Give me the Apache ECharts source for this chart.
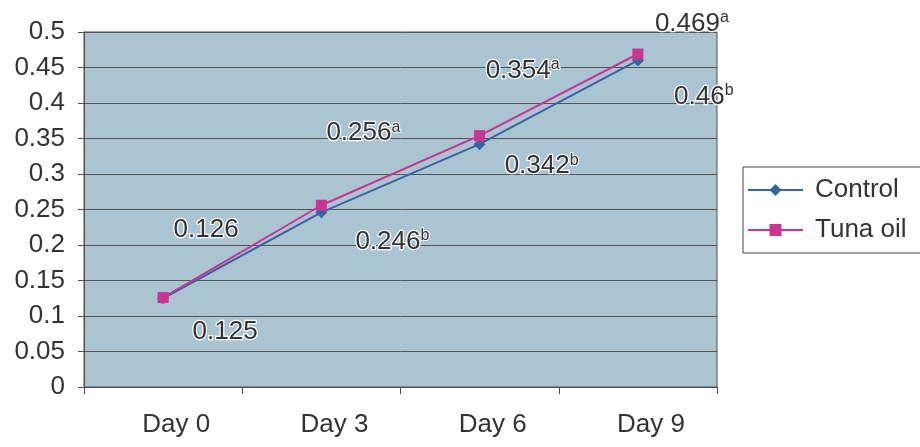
<!DOCTYPE html>
<html>
<head>
<meta charset="utf-8">
<script src="https://cdn.jsdelivr.net/npm/echarts@6/dist/echarts.min.js"></script>
<style>
  html, body { margin: 0; padding: 0; background: #fff; }
  #chart { width: 920px; height: 447px; }
</style>
</head>
<body>
<div id="chart"></div>
<script>
// Sampling days on the x axis
const days = ['Day 0', 'Day 3', 'Day 6', 'Day 9'];

// Measured values per group
const controlValues = [0.125, 0.246, 0.342, 0.46];
const tunaOilValues = [0.126, 0.256, 0.354, 0.469];

// Significance letters shown as superscripts next to each value
const controlLetters = ['', 'b', 'b', 'b'];
const tunaOilLetters = ['', 'a', 'a', 'a'];

// Y axis tick labels (0 to 0.5 in steps of 0.05)
const yTickLabels = ['0', '0.05', '0.1', '0.15', '0.2', '0.25', '0.3', '0.35', '0.4', '0.45', '0.5'];

// Label placement (centre of each value label relative to its point, px)
const controlLabelOffsets = [[62, 34], [71, 29], [62, 22], [66, 36]];
const tunaOilLabelOffsets = [[43, -68], [42, -72], [43, -65], [54, -30]];

const FONT = '"Liberation Sans", Arial, sans-serif';
const TEXT = '#333333';

function labelRich() {
  return {
    n: { fontSize: 26, fontFamily: FONT, color: TEXT, lineHeight: 28,
         textBorderColor: 'rgba(255,255,255,0.95)', textBorderWidth: 2.5 },
    s: { fontSize: 16, fontFamily: FONT, color: TEXT, lineHeight: 28, verticalAlign: 'top',
         textBorderColor: 'rgba(255,255,255,0.95)', textBorderWidth: 2 }
  };
}

function buildPoints(values, letters, offsets) {
  return values.map((v, i) => ({
    value: v,
    label: {
      show: true,
      position: 'inside',
      align: 'center',
      verticalAlign: 'middle',
      offset: offsets[i],
      formatter: letters[i] ? `{n|${v}}{s|${letters[i]}}` : `{n|${v}}`,
      rich: labelRich()
    }
  }));
}

const chart = echarts.init(document.getElementById('chart'), null, { renderer: 'canvas' });

chart.setOption({
  animation: false,
  backgroundColor: '#ffffff',
  grid: {
    left: 84, right: 203, top: 32, bottom: 60,
    show: true,
    backgroundColor: '#abc4d2',
    borderColor: '#505050',
    borderWidth: 1
  },
  legend: {
    data: ['Control', 'Tuna oil'],
    orient: 'vertical',
    left: 743, top: 167,
    padding: [10, 40, 10, 4],
    borderColor: '#444444',
    borderWidth: 1,
    itemWidth: 55,
    itemHeight: 15,
    itemGap: 14,
    textStyle: { fontSize: 26, fontFamily: FONT, color: TEXT, padding: [0, 0, 0, 7] }
  },
  xAxis: {
    type: 'category',
    data: days,
    boundaryGap: true,
    axisLine: { lineStyle: { color: '#505050', width: 1 } },
    axisTick: { show: true, length: 7, lineStyle: { color: '#505050' } },
    axisLabel: { fontSize: 26, fontFamily: FONT, color: TEXT, margin: 25, padding: [0, 0, 0, 26] }
  },
  yAxis: {
    type: 'value',
    min: 0, max: 0.5, interval: 0.05,
    axisLine: { show: true, lineStyle: { color: '#505050', width: 1 } },
    axisTick: { show: true, length: 6, lineStyle: { color: '#505050' } },
    splitLine: { show: true, lineStyle: { color: '#555555', width: 1 } },
    axisLabel: {
      fontSize: 26, fontFamily: FONT, color: TEXT, margin: 19,
      formatter: v => yTickLabels[Math.round(v / 0.05)]
    }
  },
  series: [
    {
      name: 'Control',
      type: 'line',
      data: buildPoints(controlValues, controlLetters, controlLabelOffsets),
      symbol: 'diamond',
      symbolSize: 12,
      color: '#3566a0',
      lineStyle: { color: '#3566a0', width: 2 },
      itemStyle: { color: '#3566a0' }
    },
    {
      name: 'Tuna oil',
      type: 'line',
      data: buildPoints(tunaOilValues, tunaOilLetters, tunaOilLabelOffsets),
      symbol: 'rect',
      symbolSize: 11,
      color: '#cc3393',
      lineStyle: { color: '#cc3393', width: 2 },
      itemStyle: { color: '#cc3393' }
    }
  ]
});
</script>
</body>
</html>
